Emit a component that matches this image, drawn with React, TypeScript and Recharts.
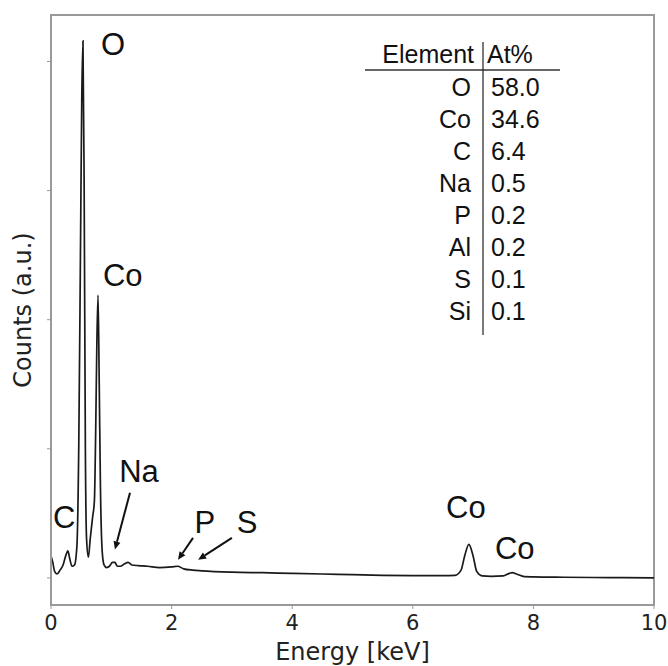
import React from "react";
import {
  LineChart,
  Line,
  XAxis,
  YAxis,
  ReferenceArea,
  ReferenceDot,
  ReferenceLine,
  Customized,
} from "recharts";

// Energy axis (keV)
const energy = [
  0, 0.03, 0.06, 0.1, 0.15, 0.2, 0.25, 0.28, 0.31, 0.35, 0.39, 0.43, 0.46, 0.49,
  0.51, 0.53, 0.55, 0.57, 0.59, 0.62, 0.65, 0.69, 0.72, 0.74, 0.76, 0.78, 0.8,
  0.82, 0.85, 0.88, 0.92, 0.97, 1.02, 1.06, 1.1, 1.15, 1.22, 1.28, 1.34, 1.45,
  1.6, 1.8, 2.0, 2.1, 2.2, 2.35, 2.5, 3.0, 3.5, 4.0, 4.5, 5.0, 5.5, 6.0, 6.5,
  6.7, 6.8, 6.86, 6.93, 7.0, 7.06, 7.15, 7.3, 7.5, 7.6, 7.65, 7.72, 7.85, 8.0,
  8.5, 9.0, 9.5, 10.0,
];

// Counts (a.u.)
const counts = [
  0.17, 0.12, 0.05, 0.03, 0.06, 0.1, 0.18, 0.21, 0.15, 0.09, 0.1, 0.25, 1.0, 2.6,
  3.7, 4.16, 3.0, 1.0, 0.3, 0.16, 0.3, 0.47, 0.6, 1.1, 1.8, 2.19, 1.5, 0.7, 0.2,
  0.1, 0.08, 0.09, 0.12, 0.12, 0.09, 0.09, 0.11, 0.12, 0.1, 0.095, 0.09, 0.08,
  0.085, 0.09, 0.07, 0.06, 0.055, 0.045, 0.04, 0.035, 0.03, 0.025, 0.02, 0.018,
  0.018, 0.02, 0.06, 0.17, 0.26, 0.17, 0.05, 0.015, 0.012, 0.015, 0.035, 0.04,
  0.03, 0.01, 0.008, 0.005, 0.003, 0.002, 0.0,
];

const xTicks = [0, 2, 4, 6, 8, 10];
const yTicks = [0, 1, 2, 3, 4];

// Peak labels (energy, counts at text baseline)
const peakNames = ["O", "Co", "C", "Na", "P", "S", "Co", "Co"];
const peakLabelE = [1.03, 1.19, 0.22, 1.46, 2.55, 3.25, 6.88, 7.69];
const peakLabelC = [4.05, 2.26, 0.39, 0.74, 0.35, 0.35, 0.465, 0.147];

// Arrows: tail (e, c) -> head (e, c)
const arrowTailE = [1.31, 2.355, 3.0];
const arrowTailC = [0.66, 0.31, 0.31];
const arrowHeadE = [1.06, 2.106, 2.44];
const arrowHeadC = [0.22, 0.14, 0.14];

// Composition table
const tableElements = ["O", "Co", "C", "Na", "P", "Al", "S", "Si"];
const tableAtPct = ["58.0", "34.6", "6.4", "0.5", "0.2", "0.2", "0.1", "0.1"];

const data = energy.map((e, i) => ({ e, c: counts[i] }));

const AXIS_FONT = "'DejaVu Sans', Verdana, sans-serif";
const LABEL_FONT = "'Liberation Sans', Arial, sans-serif";

const ArrowShape = (props: any) => {
  const { x1, y1, x2, y2 } = props;
  if ([x1, y1, x2, y2].some((v) => typeof v !== "number" || isNaN(v))) return null;
  const dx = x2 - x1;
  const dy = y2 - y1;
  const len = Math.sqrt(dx * dx + dy * dy);
  const ux = dx / len;
  const uy = dy / len;
  const hl = 8;
  const hw = 3.5;
  const bx = x2 - ux * hl;
  const by = y2 - uy * hl;
  const pts = `${x2},${y2} ${bx - uy * hw},${by + ux * hw} ${bx + uy * hw},${by - ux * hw}`;
  return (
    <g>
      <line x1={x1} y1={y1} x2={bx} y2={by} stroke="#111" strokeWidth={2} />
      <polygon points={pts} fill="#111" />
    </g>
  );
};

const CompositionTable = () => {
  const rowY0 = 96;
  const rowStep = 32;
  return (
    <g fontFamily={LABEL_FONT} fontSize={25} fill="#111">
      <text x={474} y={63} textAnchor="end">Element</text>
      <text x={487} y={63} textAnchor="start">At%</text>
      <line x1={365} y1={70} x2={560} y2={70} stroke="#666" strokeWidth={2} />
      <line x1={483} y1={42} x2={483} y2={335} stroke="#222" strokeWidth={1.2} />
      {tableElements.map((el, i) => (
        <g key={i}>
          <text x={471} y={rowY0 + i * rowStep} textAnchor="end">{el}</text>
          <text x={491} y={rowY0 + i * rowStep} textAnchor="start">{tableAtPct[i]}</text>
        </g>
      ))}
    </g>
  );
};

export default function App() {
  return (
    <div style={{ position: "absolute", left: 0, top: 0, background: "#fff" }}>
      <LineChart
        width={668}
        height={666}
        data={data}
        margin={{ top: 15, right: 14, bottom: 0, left: 0 }}
      >
        <XAxis
          dataKey="e"
          type="number"
          domain={[0, 10]}
          ticks={xTicks}
          height={61}
          axisLine={{ stroke: "#999", strokeWidth: 2 }}
          tickLine={{ stroke: "#999" }}
          tickSize={4}
          tickMargin={6}
          tick={{ fontFamily: AXIS_FONT, fontSize: 21, fill: "#222" }}
          allowDataOverflow
          label={{
            content: (p: any) => {
              const vb = p.viewBox || {};
              return (
                <text
                  x={vb.x + vb.width / 2}
                  y={vb.y + 55}
                  textAnchor="middle"
                  fontFamily={AXIS_FONT}
                  fontSize={24}
                  fill="#222"
                >
                  Energy [keV]
                </text>
              );
            },
          }}
        />
        <YAxis
          type="number"
          domain={[-0.21, 4.36]}
          ticks={yTicks}
          width={51}
          allowDataOverflow
          axisLine={{ stroke: "#999", strokeWidth: 2 }}
          tickLine={{ stroke: "#999" }}
          tickSize={4}
          tickFormatter={() => ""}
          label={{
            content: (p: any) => {
              const vb = p.viewBox || {};
              const cx = vb.x + 23;
              const cy = vb.y + vb.height / 2;
              return (
                <text
                  x={cx}
                  y={cy}
                  textAnchor="middle"
                  dominantBaseline="central"
                  transform={`rotate(-90 ${cx} ${cy})`}
                  fontFamily={AXIS_FONT}
                  fontSize={24}
                  fill="#222"
                >
                  Counts (a.u.)
                </text>
              );
            },
          }}
        />
        <ReferenceArea
          x1={0}
          x2={10}
          y1={-0.21}
          y2={4.36}
          fill="none"
          fillOpacity={0}
          stroke="#999"
          strokeWidth={2}
          ifOverflow="visible"
        />
        <Line
          type="monotone"
          dataKey="c"
          stroke="#1a1a1a"
          strokeWidth={1.7}
          dot={false}
          isAnimationActive={false}
        />
        {peakNames.map((name, i) => (
          <ReferenceDot
            key={`pk${i}`}
            x={peakLabelE[i]}
            y={peakLabelC[i]}
            r={0}
            ifOverflow="visible"
            shape={(p: any) => (
              <text
                x={p.cx}
                y={p.cy}
                textAnchor="middle"
                fontFamily={LABEL_FONT}
                fontSize={31}
                fill="#111"
              >
                {name}
              </text>
            )}
          />
        ))}
        {arrowTailE.map((e, i) => (
          <ReferenceLine
            key={`ar${i}`}
            segment={[
              { x: e, y: arrowTailC[i] },
              { x: arrowHeadE[i], y: arrowHeadC[i] },
            ]}
            ifOverflow="visible"
            shape={ArrowShape}
          />
        ))}
        <Customized component={CompositionTable} />
      </LineChart>
    </div>
  );
}
